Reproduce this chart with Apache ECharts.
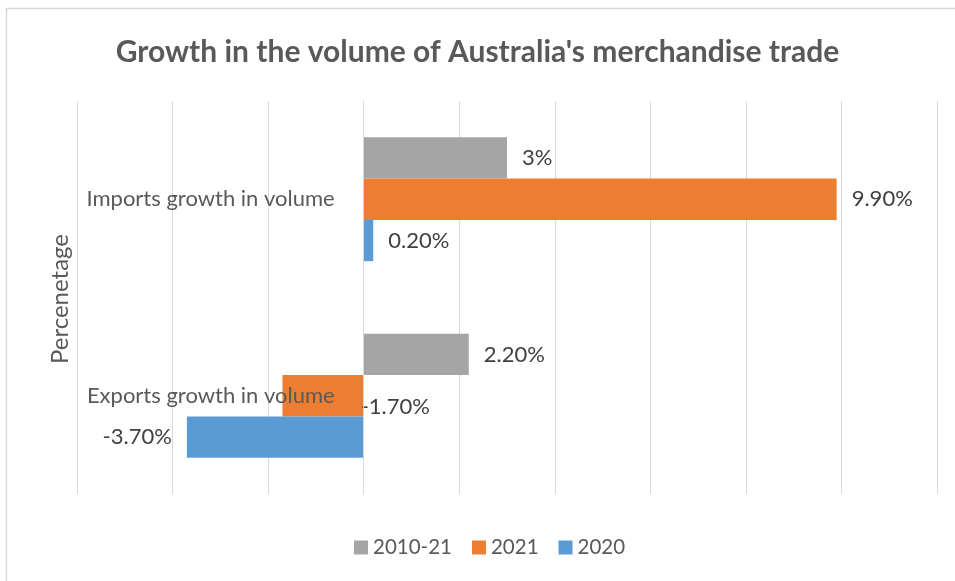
<!DOCTYPE html>
<html>
<head>
<meta charset="utf-8">
<script src="https://cdn.jsdelivr.net/npm/echarts@6/dist/echarts.min.js"></script>
<style>
  html, body { margin: 0; padding: 0; background: #fff; }
  #chart { width: 955px; height: 581px; }
</style>
</head>
<body>
<div id="chart"></div>
<script>
// Trade categories (bottom to top on the vertical axis)
const categories = ['Exports growth in volume', 'Imports growth in volume'];

// Growth rates, percent
const values2010_21 = [2.2, 3];
const values2021 = [-1.7, 9.9];
const values2020 = [-3.7, 0.2];

// Value labels as printed beside each bar
const labels2010_21 = ['2.20%', '3%'];
const labels2021 = ['-1.70%', '9.90%'];
const labels2020 = ['-3.70%', '0.20%'];

const legendNames = ['2010-21', '2021', '2020'];

const FONT = 'Lato';
const TEXT = '#595959';
const LABEL = '#404040';

const X_MIN = -6;
const X_MAX = 12;
const GRID_LEFT = 77;
const GRID_RIGHT = 18;
const CHART_W = 955;

function seriesData(values, labels, extra) {
  return values.map(function (v, i) {
    const item = {
      value: v,
      label: {
        formatter: labels[i],
        position: v < 0 ? 'left' : 'right'
      }
    };
    if (extra && extra[i]) Object.assign(item.label, extra[i]);
    return item;
  });
}

// Shift the category axis from the grid's left edge to the zero line
const plotW = CHART_W - GRID_LEFT - GRID_RIGHT;
const zeroOffset = -plotW * (0 - X_MIN) / (X_MAX - X_MIN);

const barLabel = {
  show: true,
  distance: 15,
  color: LABEL,
  fontFamily: FONT,
  fontSize: 22
};

const chart = echarts.init(document.getElementById('chart'), null, { renderer: 'canvas' });

chart.setOption({
  backgroundColor: '#ffffff',
  animation: false,
  title: {
    text: "Growth in the volume of Australia's merchandise trade",
    left: 'center',
    top: 32,
    textStyle: {
      fontFamily: FONT,
      fontWeight: 'bold',
      fontSize: 30,
      color: TEXT
    }
  },
  graphic: [{
    type: 'rect',
    shape: { x: 6.5, y: 8.5, width: 1000, height: 1000 },
    style: { fill: 'none', stroke: '#d9d9d9', lineWidth: 1.5 },
    silent: true,
    z: -1
  }, {
    // vertical axis title
    type: 'text',
    x: 60,
    y: 299,
    rotation: Math.PI / 2,
    style: {
      text: 'Percenetage',
      font: '24px ' + FONT,
      fill: TEXT,
      align: 'center',
      verticalAlign: 'middle'
    }
  }],
  legend: {
    data: legendNames,
    bottom: 18,
    left: 349,
    itemWidth: 14,
    itemHeight: 14,
    itemGap: 20,
    icon: 'rect',
    textStyle: { fontFamily: FONT, fontSize: 20.5, color: TEXT }
  },
  grid: {
    left: GRID_LEFT,
    right: GRID_RIGHT,
    top: 101,
    bottom: 87,
    containLabel: false,
    outerBoundsMode: 'none'
  },
  xAxis: {
    type: 'value',
    min: X_MIN,
    max: X_MAX,
    interval: 2,
    axisLabel: { show: false },
    axisLine: { show: false },
    axisTick: { show: false },
    splitLine: { lineStyle: { color: '#d9d9d9', width: 1 } }
  },
  yAxis: {
    type: 'category',
    data: categories,
    position: 'left',
    offset: zeroOffset,
    z: 10,
    axisLine: { show: true, onZero: false, lineStyle: { color: '#d9d9d9' } },
    axisTick: { show: false },
    axisLabel: {
      margin: 29,
      fontFamily: FONT,
      fontSize: 22,
      color: TEXT
    }
  },
  series: [
    {
      name: '2010-21',
      type: 'bar',
      data: seriesData(values2010_21, labels2010_21),
      itemStyle: { color: '#A5A5A5' },
      label: barLabel,
      barGap: '0%',
      barCategoryGap: '37%'
    },
    {
      name: '2021',
      type: 'bar',
      data: seriesData(values2021, labels2021, [{ position: 'right', distance: -3, offset: [0, 11] }]),
      itemStyle: { color: '#ED7D31' },
      label: barLabel,
      barGap: '0%',
      barCategoryGap: '37%'
    },
    {
      name: '2020',
      type: 'bar',
      data: seriesData(values2020, labels2020),
      itemStyle: { color: '#5B9BD5' },
      label: barLabel,
      barGap: '0%',
      barCategoryGap: '37%'
    }
  ]
});
</script>
</body>
</html>
